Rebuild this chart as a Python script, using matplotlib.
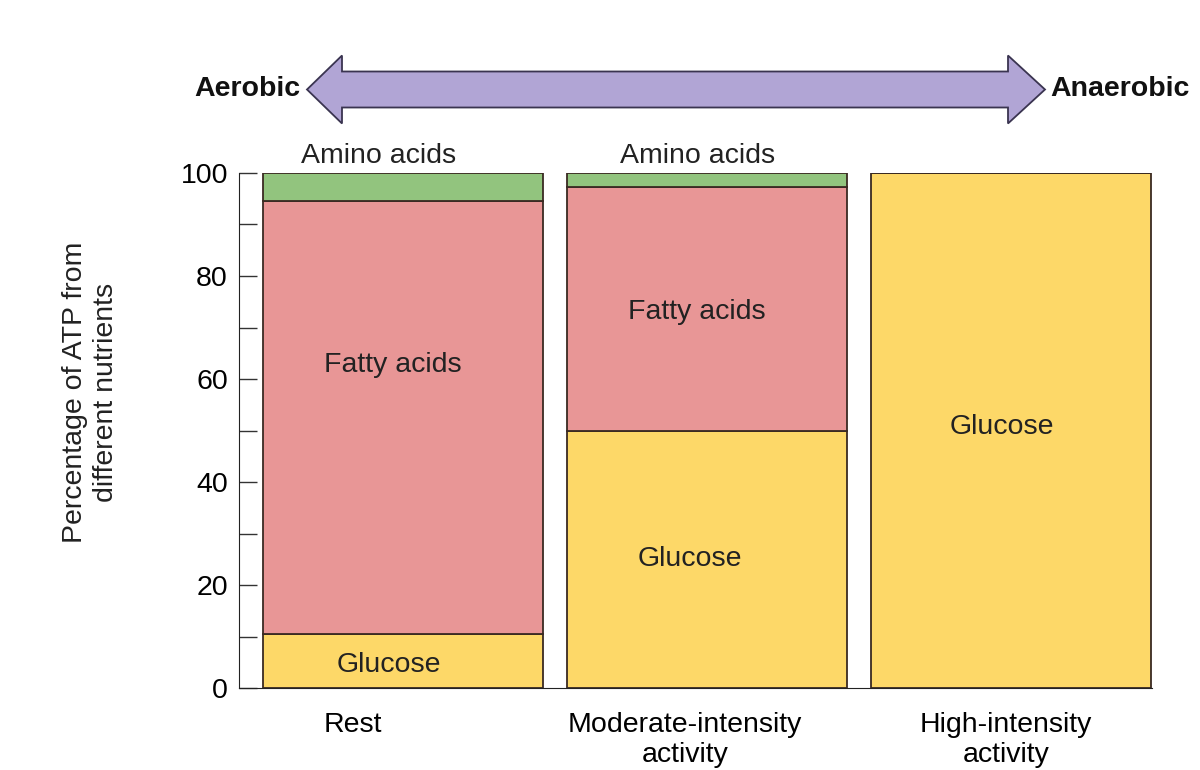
import numpy as np
import matplotlib.pyplot as plt
from matplotlib.patches import Polygon

plt.rcParams['font.family'] = ['Liberation Sans', 'DejaVu Sans']

# data
activities = ['Rest', 'Moderate-intensity\nactivity', 'High-intensity\nactivity']
glucose = [10.5, 50, 100]
fatty_acids = [84, 47.3, 0]
amino_acids = [5.5, 2.7, 0]

# where the segment names sit (y in %)
glucose_label_y = [4.5, 25, 50.7]
fatty_label_y = [62.8, 73, None]
amino_label_y = [103.3, 103.3, None]

c_glu = '#fdd868'
c_fat = '#e89696'
c_ami = '#92c47e'
edge = '#3a2a22'

fig = plt.figure(figsize=(12, 7.7), dpi=100)
# axes placed in pixel terms: left spine x=239, y 0 -> 688 px, 100 -> 173 px
ax = fig.add_axes([239 / 1200, 1 - 688 / 770, (1152 - 239) / 1200, (688 - 173) / 770])

x = np.arange(len(activities))
w = 280 / 304
glu = np.array(glucose)
fat = np.array(fatty_acids)
ami = np.array(amino_acids)

ax.bar(x, glu, width=w, color=c_glu, edgecolor=edge, linewidth=1.3)
ax.bar(x, fat, bottom=glu, width=w, color=c_fat, edgecolor=edge, linewidth=1.3)
ax.bar(x, ami, bottom=glu + fat, width=w, color=c_ami, edgecolor=edge, linewidth=1.3)

ax.set_xlim(-164 / 304, (1152 - 403) / 304)
ax.set_ylim(0, 100)

fs = 20.5
label_dx = [-0.045, -0.055, -0.03]
for i in range(len(x)):
    ax.text(x[i] + label_dx[i], glucose_label_y[i], 'Glucose', ha='center', va='center', fontsize=fs, color='#222222')
    if fatty_label_y[i] is not None:
        ax.text(x[i] - 0.035, fatty_label_y[i], 'Fatty acids', ha='center', va='center', fontsize=fs, color='#222222')
    if amino_label_y[i] is not None:
        ax.text(x[i] - 0.08 + 0.05 * i, amino_label_y[i], 'Amino acids', ha='center', va='center',
                fontsize=fs, color='#222222', clip_on=False)

ax.spines['top'].set_visible(False)
ax.spines['right'].set_visible(False)
ax.spines['left'].set_color('#222222')
ax.spines['bottom'].set_color('#222222')

ax.set_yticks(np.arange(0, 101, 20))
ax.set_yticks(np.arange(10, 100, 20), minor=True)
ax.tick_params(axis='y', which='both', direction='in', length=13, width=1, color='#333333',
               labelsize=fs, pad=8)
# category names sit a little left of the bar centres
ax.set_xticks(x + np.array([-0.165, -0.072, -0.016]))
ax.set_xticklabels(activities, fontsize=fs, linespacing=1.2)
ax.tick_params(axis='x', length=0, pad=17)

fig.text(91 / 1200, 1 - 392 / 770, 'Percentage of ATP from\ndifferent nutrients', rotation=90,
         ha='center', va='center', fontsize=fs, linespacing=1.25, color='#222222')

# double-headed arrow across the top (figure pixel coords)
fax = fig.add_axes([0, 0, 1, 1], zorder=-1)
fax.set_xlim(0, 1200)
fax.set_ylim(770, 0)
fax.axis('off')
ay, bh, hh = 89.5, 18, 34
xl, xlb, xrb, xr = 307, 342, 1008, 1045
arrow_pts = [(xl, ay), (xlb, ay - hh), (xlb, ay - bh), (xrb, ay - bh), (xrb, ay - hh), (xr, ay),
             (xrb, ay + hh), (xrb, ay + bh), (xlb, ay + bh), (xlb, ay + hh)]
fax.add_patch(Polygon(arrow_pts, closed=True, facecolor='#b1a5d5', edgecolor='#3a3450', linewidth=1.3))
fax.text(300, ay, 'Aerobic', ha='right', va='center', fontsize=fs, fontweight='bold', color='#111111')
fax.text(1050, ay, 'Anaerobic', ha='left', va='center', fontsize=fs, fontweight='bold', color='#111111')

fig.savefig('out.png', dpi=100)
